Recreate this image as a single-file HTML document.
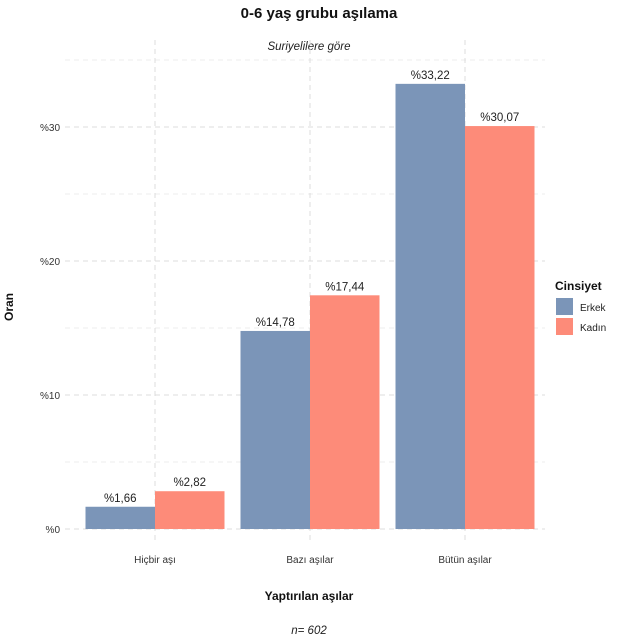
<!DOCTYPE html>
<html><head><meta charset="utf-8"><style>
body{margin:0;background:#fff;font-family:"Liberation Sans",sans-serif}
svg text{font-family:"Liberation Sans",sans-serif}
</style></head><body>
<svg width="638" height="638">
<text x="319" y="18" text-anchor="middle" font-size="15" font-weight="bold" fill="#111">0-6 yaş grubu aşılama</text>
<text x="309" y="50" text-anchor="middle" font-size="11.5" font-style="italic" fill="#222">Suriyelilere göre</text>
<g id="grid"></g>
<g id="bars"></g>
<g id="axis"></g>
<text transform="translate(13,307) rotate(-90)" text-anchor="middle" font-size="12" font-weight="bold" fill="#111">Oran</text>
<text x="309" y="600" text-anchor="middle" font-size="12" font-weight="bold" fill="#111">Yaptırılan aşılar</text>
<text x="309" y="634" text-anchor="middle" font-size="11.5" font-style="italic" fill="#222">n=  602</text>
<g>
<text x="555" y="290" font-size="12" font-weight="bold" fill="#111">Cinsiyet</text>
<rect x="556" y="298" width="17" height="17" fill="#7b95b8"/>
<text x="580" y="311" font-size="10" fill="#222">Erkek</text>
<rect x="556" y="318" width="17" height="17" fill="#fd8b79"/>
<text x="580" y="331" font-size="10" fill="#222">Kadın</text>
</g>
</svg>
<script>
const categories=["Hiçbir aşı","Bazı aşılar","Bütün aşılar"];
const erkek=[1.66,14.78,33.22];
const kadin=[2.82,17.44,30.07];
const yTicks=[0,10,20,30];
const yTickLabels=["%0","%10","%20","%30"];
const NS="http://www.w3.org/2000/svg";
const y=v=>529-v*13.4;
const xc=i=>155+i*155;
const bw=69.5;
function mk(tag,attrs,parent,text){const e=document.createElementNS(NS,tag);for(const k in attrs)e.setAttribute(k,attrs[k]);if(text!=null)e.textContent=text;document.getElementById(parent).appendChild(e);return e;}
const fmt=v=>"%"+v.toFixed(2).replace(".",",");
for(let t=0;t<=35;t+=5){const g=mk("line",{x1:65,x2:545,y1:y(t),y2:y(t),stroke:t%10?"#ececec":"#dcdcdc","stroke-dasharray":"5,4","stroke-width":1},"grid");

}
categories.forEach((c,i)=>{const g=mk("line",{x1:xc(i),x2:xc(i),y1:40,y2:540,stroke:"#dcdcdc","stroke-dasharray":"5,4"},"grid");


const l=mk("text",{x:xc(i),y:563,"text-anchor":"middle","font-size":10,fill:"#333"},"axis",c);

});
yTicks.forEach((t,i)=>{const l=mk("text",{x:60,y:y(t)+4,"text-anchor":"end","font-size":10,fill:"#333"},"axis",yTickLabels[i]);

});
[[erkek,"#7b95b8",-1,"erkek"],[kadin,"#fd8b79",0,"kadin"]].forEach(([arr,col,off,nm])=>{
arr.forEach((v,i)=>{const x0=xc(i)+off*bw;
const r=mk("rect",{x:x0,y:y(v),width:bw,height:y(0)-y(v),fill:col},"bars");


const t=mk("text",{x:x0+bw/2,y:y(v)-5,"text-anchor":"middle","font-size":11.5,fill:"#222"},"bars",fmt(v));

});});
</script>
</body></html>
